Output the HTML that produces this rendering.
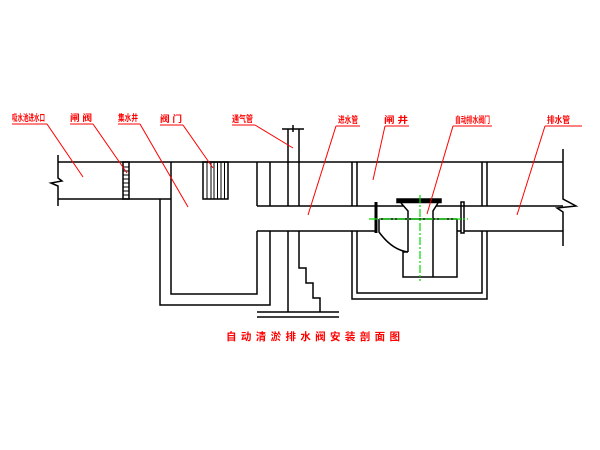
<!DOCTYPE html>
<html>
<head>
<meta charset="utf-8">
<style>
html,body{margin:0;padding:0;background:#fff;}
svg{display:block;}
text{font-family:"Liberation Sans","Noto Sans CJK SC",sans-serif;font-weight:bold;fill:#ff0000;}
</style>
</head>
<body>
<svg width="600" height="450" viewBox="0 0 600 450" xmlns="http://www.w3.org/2000/svg">
<g stroke="#000" stroke-width="1.5" fill="none">
  <!-- left pipe -->
  <line x1="58" y1="162" x2="563" y2="162"/>
  <line x1="58" y1="199" x2="171" y2="199"/>
  <path d="M58,155 L58,178 L62,181 L51,183 L58,186 L58,206"/>
  <!-- ladder -->
  <rect x="123" y="162" width="6" height="37"/>
  <g stroke-width="1">
    <line x1="123" y1="167" x2="129" y2="167"/>
    <line x1="123" y1="171" x2="129" y2="171"/>
    <line x1="123" y1="175" x2="129" y2="175"/>
    <line x1="123" y1="179" x2="129" y2="179"/>
    <line x1="123" y1="183" x2="129" y2="183"/>
    <line x1="123" y1="187" x2="129" y2="187"/>
    <line x1="123" y1="191" x2="129" y2="191"/>
    <line x1="123" y1="195" x2="129" y2="195"/>
  </g>
  <!-- left box -->
  <path d="M171,162 L171,294 L257,294 L257,231"/>
  <path d="M160,199 L160,305 L270,305 L270,231"/>
  <line x1="257" y1="162" x2="257" y2="206"/>
  <line x1="270" y1="162" x2="270" y2="206"/>
  <!-- bars -->
  <rect x="203" y="162" width="25" height="37"/>
  <g stroke-width="1">
    <line x1="207" y1="162" x2="207" y2="199"/>
    <line x1="211" y1="162" x2="211" y2="199"/>
    <line x1="214" y1="162" x2="214" y2="199"/>
    <line x1="217.5" y1="162" x2="217.5" y2="199"/>
    <line x1="221" y1="162" x2="221" y2="199"/>
    <line x1="224.5" y1="162" x2="224.5" y2="199"/>
  </g>
  <!-- vent pipe -->
  <line x1="288" y1="129" x2="288" y2="206"/>
  <line x1="299" y1="129" x2="299" y2="206"/>
  <line x1="282" y1="129" x2="304" y2="129"/>
  <line x1="293" y1="125" x2="293" y2="132"/>
  <line x1="288" y1="231" x2="288" y2="312"/>
  <path d="M299,231 L299,268 L306,268 L306,283 L313,283 L313,298 L320,298 L320,312"/>
  <line x1="257" y1="312" x2="339" y2="312"/>
  <line x1="257" y1="317" x2="339" y2="317"/>
  <!-- main lower pipe -->
  <line x1="257" y1="206" x2="403" y2="206"/>
  <line x1="436" y1="206" x2="563" y2="206"/>
  <line x1="257" y1="231" x2="376" y2="231"/>
  <line x1="464" y1="231" x2="563" y2="231"/>
  <line x1="457" y1="231" x2="461" y2="231"/>
  <!-- right chamber walls -->
  <line x1="352" y1="162" x2="352" y2="206"/>
  <line x1="357" y1="162" x2="357" y2="206"/>
  <line x1="482" y1="162" x2="482" y2="206"/>
  <line x1="487" y1="162" x2="487" y2="206"/>
  <path d="M352,231 L352,299 L487,299 L487,231"/>
  <path d="M357,231 L357,293 L482,293 L482,231"/>
  <!-- right break -->
  <path d="M563,149 L563,199 L576,206 L557,208 L563,212 L563,246"/>
  <!-- valve -->
  <line x1="376" y1="202" x2="376" y2="233" stroke-width="3"/>
  <rect x="461" y="202" width="3" height="31"/>
  <rect x="397" y="199" width="44" height="3.5" fill="#000"/>
  <path d="M401,203 L408,211 L408,252"/>
  <path d="M438,203 L433,211 L433,277"/>
  <line x1="379" y1="219" x2="457" y2="219"/>
  <path d="M379,219 L379,232 Q392,250 408,252 L403,252 L403,277 L457,277 L457,219"/>
</g>
<!-- green centerlines -->
<g stroke="#00dd00" stroke-width="1.2" fill="none" stroke-dasharray="8,2,2,2">
  <line x1="420" y1="195" x2="420" y2="281"/>
  <line x1="369" y1="219" x2="468" y2="219"/>
</g>
<!-- red leaders -->
<g stroke="#ff0000" stroke-width="1" fill="none">
  <line x1="12" y1="124" x2="47" y2="124"/>
  <line x1="47" y1="124" x2="83" y2="177"/>
  <line x1="70" y1="124" x2="93" y2="124"/>
  <line x1="93" y1="124" x2="127" y2="173"/>
  <line x1="118" y1="124" x2="140" y2="124"/>
  <line x1="140" y1="124" x2="188" y2="207"/>
  <line x1="160" y1="125" x2="183" y2="125"/>
  <line x1="183" y1="125" x2="213" y2="168"/>
  <line x1="232" y1="125" x2="255" y2="125"/>
  <line x1="255" y1="125" x2="293" y2="148"/>
  <line x1="336" y1="126" x2="360" y2="126"/>
  <line x1="336" y1="126" x2="308" y2="215"/>
  <line x1="385" y1="126" x2="409" y2="126"/>
  <line x1="385" y1="126" x2="373" y2="180"/>
  <line x1="453" y1="126" x2="492" y2="126"/>
  <line x1="453" y1="126" x2="427" y2="214"/>
  <line x1="545" y1="126" x2="582" y2="126"/>
  <line x1="545" y1="126" x2="517" y2="215"/>
</g>
<!-- labels -->
<text x="12" y="121" font-size="9" textLength="33" lengthAdjust="spacingAndGlyphs">吸水池进水口</text>
<text x="70" y="121" font-size="9" textLength="22" lengthAdjust="spacingAndGlyphs">闸 阀</text>
<text x="118" y="121" font-size="9" textLength="20" lengthAdjust="spacingAndGlyphs">集水井</text>
<text x="160" y="122" font-size="9" textLength="22" lengthAdjust="spacingAndGlyphs">阀 门</text>
<text x="232" y="122" font-size="9" textLength="21" lengthAdjust="spacingAndGlyphs">通气管</text>
<text x="338" y="123" font-size="9" textLength="20" lengthAdjust="spacingAndGlyphs">进水管</text>
<text x="384" y="123" font-size="9" textLength="24" lengthAdjust="spacingAndGlyphs">闸 井</text>
<text x="455" y="123" font-size="9" textLength="35" lengthAdjust="spacingAndGlyphs">自动排水阀门</text>
<text x="547" y="123" font-size="9" textLength="23" lengthAdjust="spacingAndGlyphs">排水管</text>
<text x="226" y="340" font-size="10.5" textLength="174" lengthAdjust="spacing">自动清淤排水阀安装剖面图</text>
</svg>
</body>
</html>
